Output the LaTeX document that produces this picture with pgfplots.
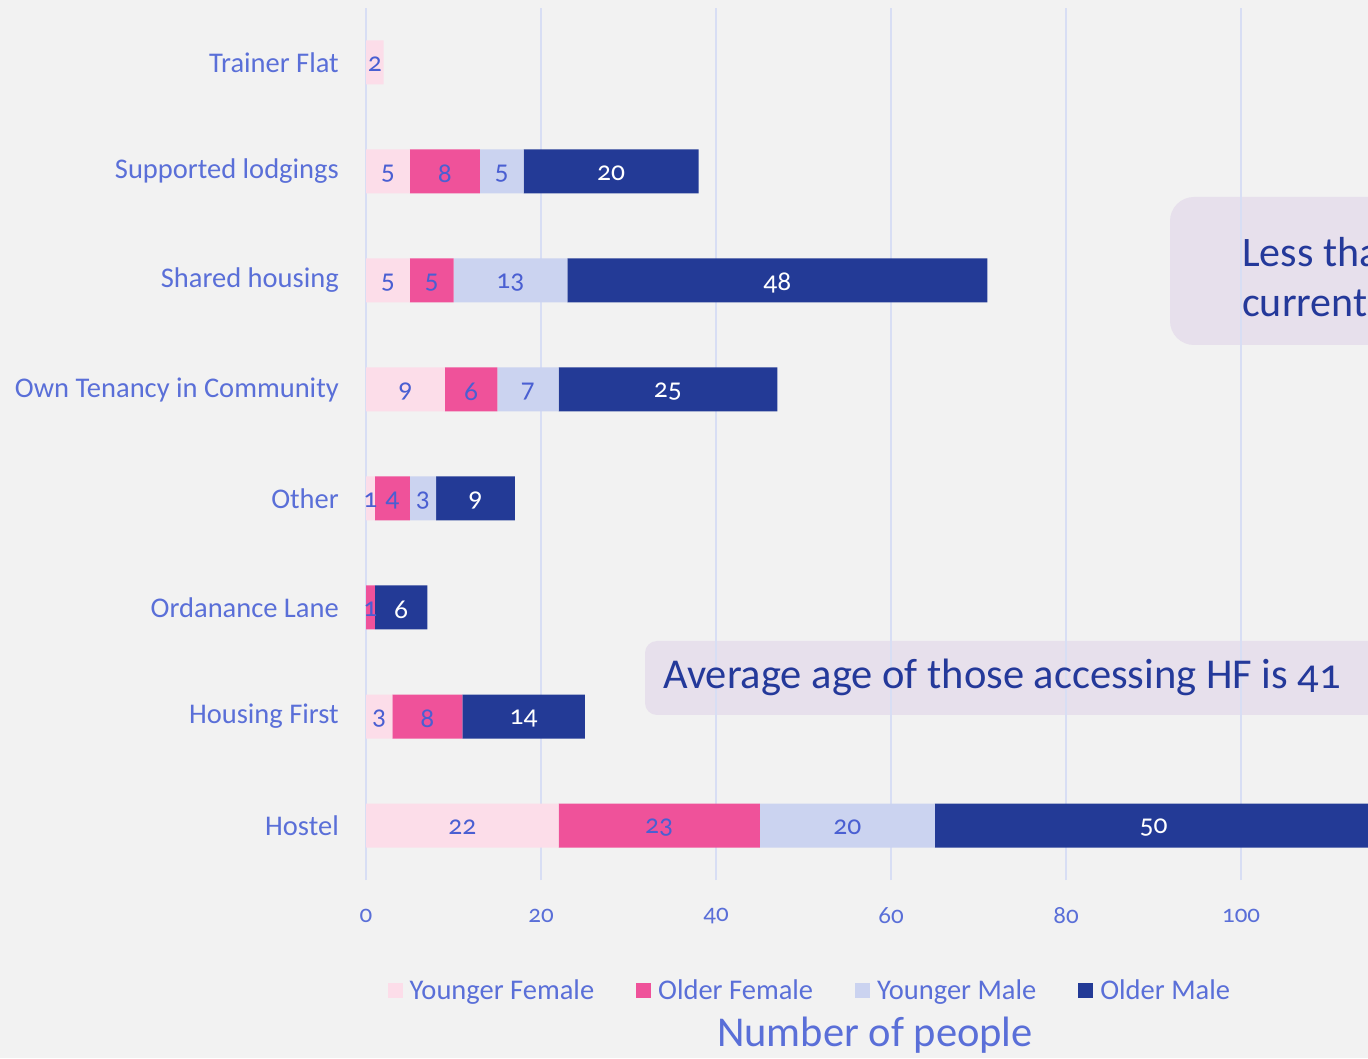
\documentclass[border=0pt]{standalone}
\usepackage{fontspec}
\setmainfont{Carlito}[Numbers=OldStyle]
\usepackage{pgfplots}
\pgfplotsset{compat=1.18}
\definecolor{bg}{HTML}{F2F2F2}
\definecolor{yf}{HTML}{FCDDE9}
\definecolor{of}{HTML}{EF529A}
\definecolor{ym}{HTML}{CBD3F0}
\definecolor{om}{HTML}{233A96}
\definecolor{lbl}{HTML}{5A6FD8}
\definecolor{dlbl}{HTML}{4A5FD2}
\definecolor{gridc}{HTML}{D8DEF4}
\definecolor{boxfill}{HTML}{E7E0EC}
\definecolor{boxtext}{HTML}{24399A}
\pgfplotsset{
  geom/.style={at={(366pt,178pt)}, anchor=south west,
    width=1002pt, height=872pt, scale only axis,
    xmin=0, xmax=114.5, ymin=-0.5, ymax=7.5},
}
\begin{document}
\begin{tikzpicture}
\begin{scope}
\clip (0pt,0pt) rectangle (1368pt,1058pt);
\fill[bg] (0pt,0pt) rectangle (1368pt,1058pt);
\fill[boxfill, rounded corners=24pt] (1170pt,713pt) rectangle (1440pt,861pt);
\fill[boxfill, rounded corners=12pt] (645pt,343pt) rectangle (1440pt,417pt);
\begin{axis}[
  geom,
  xbar stacked, bar width=44pt,
  axis line style={draw=none},
  major tick length=0pt,
  xmajorgrids, grid style={gridc, line width=1.8pt},
  xtick={0,20,...,100},
  ytick={0,...,7},
  yticklabels={Hostel, Housing First, Ordanance Lane, Other, Own Tenancy in Community, Shared housing, Supported lodgings, Trainer Flat},
  /pgf/number format/assume math mode=true,
  x tick label style={anchor=center, yshift=-36pt, text=lbl, font=\fontsize{25}{28}\selectfont},
  y tick label style={anchor=east, inner sep=0pt, xshift=-27pt, text=lbl, font=\fontsize{28.5}{32}\selectfont},
  legend image code/.code={\fill[#1] (0pt,-7.5pt) rectangle (15pt,7.5pt);},
  legend columns=4,
  legend style={at={(0.443,-0.127)}, anchor=center, draw=none, fill=none, text=lbl, font=\fontsize{28.5}{32}\selectfont, /tikz/every odd column/.append style={column sep=5pt}, /tikz/every even column/.append style={column sep=40pt}},
  xlabel={Number of people},
  xlabel style={at={(axis description cs:0.508,-0.178)}, anchor=center, text=lbl, font=\fontsize{42.5}{48}\selectfont},
]
\addplot[fill=yf, draw=none] coordinates {(22,0) (3,1) (0,2) (1,3) (9,4) (5,5) (5,6) (2,7)};
\addplot[fill=of, draw=none] coordinates {(23,0) (8,1) (1,2) (4,3) (6,4) (5,5) (8,6) (0,7)};
\addplot[fill=ym, draw=none] coordinates {(20,0) (0,1) (0,2) (3,3) (7,4) (13,5) (5,6) (0,7)};
\addplot[fill=om, draw=none] coordinates {(50,0) (14,1) (6,2) (9,3) (25,4) (48,5) (20,6) (0,7)};
\legend{Younger Female, Older Female, Younger Male, Older Male}
\end{axis}
% data labels, centred on each segment
\begin{axis}[
  geom, hide axis, clip=false,
  point meta=explicit symbolic,
  nodes near coords,
  every node near coord/.append style={anchor=center, inner sep=0pt, yshift=-2pt, font=\fontsize{27.5}{30}\selectfont},
]
\addplot[draw=none, mark=none, nodes near coords style={text=dlbl}] coordinates {
  (11,0) [22] (33.5,0) [23] (55,0) [20]
  (1.5,1) [3] (7,1) [8]
  (0.5,2) [1]
  (0.5,3) [1] (3,3) [4] (6.5,3) [3]
  (4.5,4) [9] (12,4) [6] (18.5,4) [7]
  (2.5,5) [5] (7.5,5) [5] (16.5,5) [13]
  (2.5,6) [5] (9,6) [8] (15.5,6) [5]
  (1,7) [2]};
\addplot[draw=none, mark=none, nodes near coords style={text=white}] coordinates {
  (90,0) [50] (18,1) [14] (4,2) [6] (12.5,3) [9] (34.5,4) [25] (47,5) [48] (28,6) [20]};
\end{axis}
\node[anchor=west, text=boxtext, font=\fontsize{42}{50}\selectfont, align=left, inner sep=0pt] at (1242pt,778pt) {Less than\\currently};
\node[anchor=west, text=boxtext, font=\fontsize{42.5}{48}\selectfont, inner sep=0pt] at (663pt,381pt) {Average age of those accessing HF is 41};
\end{scope}
\pgfresetboundingbox
\path[use as bounding box] (0pt,0pt) rectangle (1368pt,1058pt);
\end{tikzpicture}
\end{document}
